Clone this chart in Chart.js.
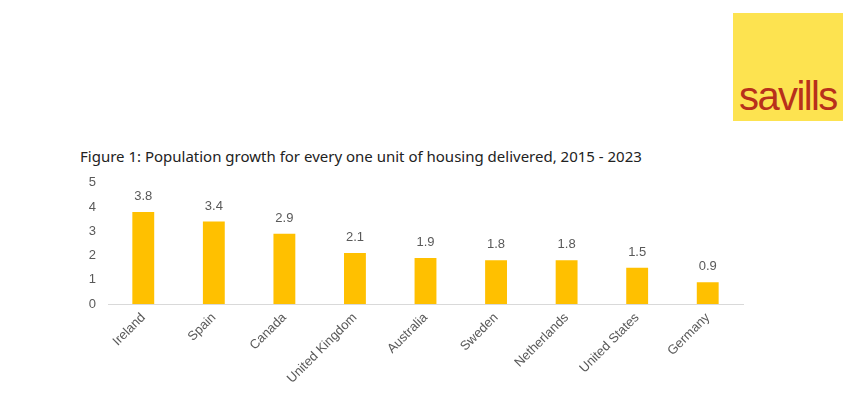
<!DOCTYPE html>
<html>
<head>
<meta charset="utf-8">
<script src="https://cdn.jsdelivr.net/npm/chart.js@4"></script>
<style>
    body { margin: 0; width: 854px; height: 398px; background: #fff; position: relative; overflow: hidden; }
    #logo { position: absolute; left: 733px; top: 13px; width: 110px; height: 108px; background: #fde350; }
    #logo span { position: absolute; left: 6px; bottom: 2px; font-family: "Liberation Sans", Arial, sans-serif; font-size: 40px; color: #b8301b; letter-spacing: -1.6px; }
    #title { position: absolute; left: 80px; top: 146px; font-family: "Noto Sans", sans-serif; font-size: 15px; color: #222; }
    #wrap { position: absolute; left: 68px; top: 163px; width: 690px; height: 235px; }
</style>
</head>
<body>
<div id="logo"><span>savills</span></div>
<div id="title">Figure 1: Population growth for every one unit of housing delivered, 2015 - 2023</div>
<div id="wrap"><canvas id="chart"></canvas></div>
<script>
// بيانات الرسم
const countries = ['Ireland', 'Spain', 'Canada', 'United Kingdom', 'Australia', 'Sweden', 'Netherlands', 'United States', 'Germany'];
const growthPerUnit = [3.8, 3.4, 2.9, 2.1, 1.9, 1.8, 1.8, 1.5, 0.9];
const yTicks = [0, 1, 2, 3, 4, 5];

const labelColor = '#595959';
const barColor = '#ffc000';

// كتابة القيم فوق الأعمدة
const valueLabels = {
    id: 'valueLabels',
    afterDatasetsDraw(chart) {
        const ctx = chart.ctx;
        const meta = chart.getDatasetMeta(0);
        ctx.save();
        ctx.font = '13px "Liberation Sans", Arial, sans-serif';
        ctx.fillStyle = labelColor;
        ctx.textAlign = 'center';
        ctx.textBaseline = 'bottom';
        meta.data.forEach((bar, i) => {
            ctx.fillText(growthPerUnit[i].toFixed(1), bar.x, bar.y - 9);
        });
        ctx.restore();
    }
};

new Chart(document.getElementById('chart'), {
    type: 'bar',
    data: {
        labels: countries,
        datasets: [{
            data: growthPerUnit,
            backgroundColor: barColor,
            categoryPercentage: 1,
            barPercentage: 0.31
        }]
    },
    options: {
        responsive: true,
        maintainAspectRatio: false,
        animation: false,
        layout: { padding: { top: 4, right: 15, left: 0, bottom: 0 } },
        plugins: {
            legend: { display: false },
            tooltip: { enabled: false }
        },
        scales: {
            x: {
                grid: { display: false, drawTicks: false },
                border: { display: true, color: '#d9d9d9', width: 1 },
                ticks: {
                    color: labelColor,
                    font: { family: '"Liberation Sans", Arial, sans-serif', size: 13 },
                    minRotation: 45,
                    maxRotation: 45,
                    padding: 6
                },
                afterFit: (s) => { s.height = 94; }
            },
            y: {
                min: 0,
                max: 5,
                grid: { display: false, drawTicks: false },
                border: { display: false },
                afterBuildTicks: (s) => { s.ticks = yTicks.map(v => ({ value: v })); },
                ticks: {
                    color: labelColor,
                    font: { family: '"Liberation Sans", Arial, sans-serif', size: 13 },
                    padding: 12
                },
                afterFit: (s) => { s.width = 40; }
            }
        }
    },
    plugins: [valueLabels]
});
</script>
</body>
</html>
